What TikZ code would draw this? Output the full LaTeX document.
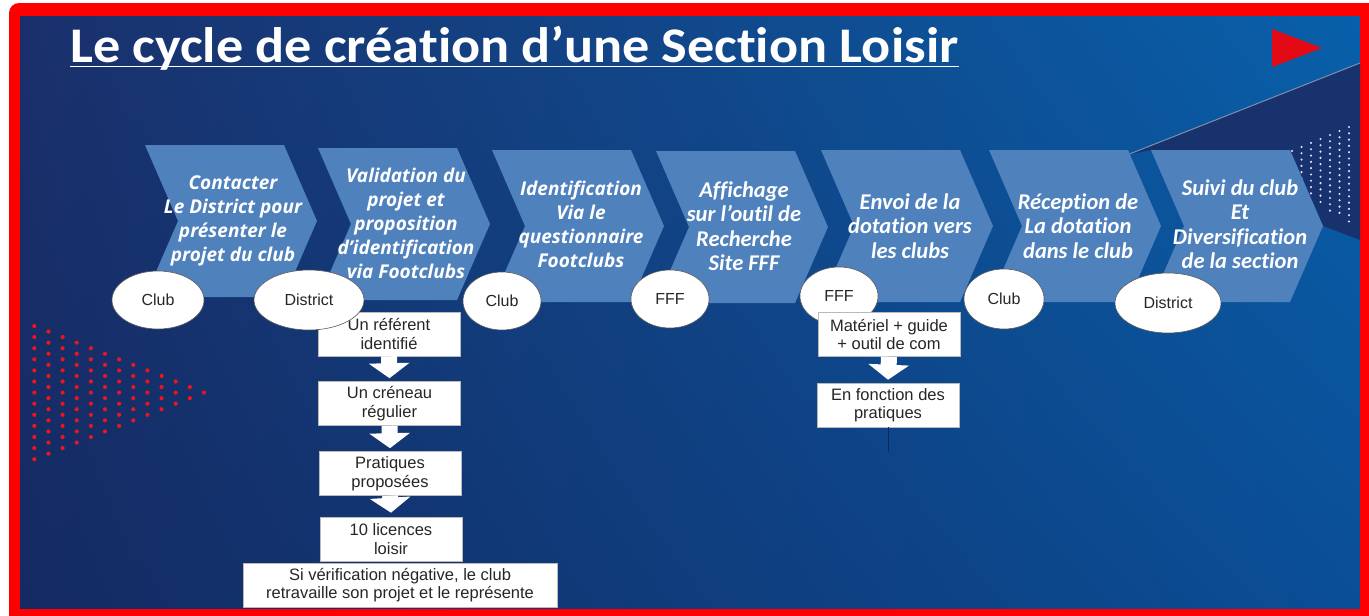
\documentclass[tikz,border=0pt]{standalone}
\usepackage{fontspec}
\usetikzlibrary{shapes.geometric,arrows.meta,calc,shadings}
\setmainfont{Liberation Sans}
\newfontfamily\carl{Carlito}[Ligatures=NoCommon]
\newfontfamily\osans{Open Sans}
\definecolor{chevblue}{RGB}{79,129,189}
\definecolor{framered}{RGB}{255,0,0}
\definecolor{trired}{RGB}{226,8,20}
\definecolor{dotred}{RGB}{235,20,32}
\definecolor{darkzone}{RGB}{24,50,110}
\definecolor{txtgray}{RGB}{38,38,38}
\definecolor{navyline}{RGB}{14,40,90}
\definecolor{diagline}{RGB}{128,142,170}
\definecolor{bgUL}{RGB}{26,48,108}
\definecolor{bgUR}{RGB}{8,96,170}
\definecolor{bgLL}{RGB}{20,42,98}
\definecolor{bgLR}{RGB}{10,78,150}
\newcommand\chevshape[2]{\fill[chev] (#1,#2) -- ++(139,0) -- ++(33,76) -- ++(-33,76) -- ++(-139,0) -- ++(33,-76) -- cycle;}
\begin{document}
\begin{tikzpicture}[x=1pt,y=-1pt,
  ell/.style={ellipse, fill=white, draw=gray!70!black, line width=0.6pt, inner sep=0pt, font=\fontsize{16}{18}\selectfont, text=txtgray},
  flowbox/.style={rectangle, fill=white, draw=gray!55, line width=0.6pt, inner sep=0pt, minimum width=142pt, minimum height=44pt, align=center, font=\fontsize{16.5}{18.5}\selectfont, text=txtgray},
  ctxtA/.style={text=white, font=\osans\bfseries\itshape\fontsize{19}{24}\selectfont, align=center, inner sep=0pt},
  ctxtB/.style={text=white, font=\carl\bfseries\itshape\fontsize{22.5}{24.5}\selectfont, align=center, inner sep=0pt},
  blockarrow/.style={draw=white, line width=16pt, -{Triangle[width=40pt,length=15pt]}},
  chev/.style={fill=chevblue}
]
\useasboundingbox (0,0) rectangle (1369,616);
% frame and background
\fill[white] (0,0) rectangle (1369,616);
\fill[framered, rounded corners=10pt] (9,3) rectangle (1400,640);
\shade[upper left=bgUL, upper right=bgUR, lower left=bgLL, lower right=bgLR] (20,16) rectangle (1360,608);
% dark zone top right
\fill[darkzone] (1127,155) -- (1360,63) -- (1360,240) -- (1323,226) -- (1290,150) -- (1151,150) -- cycle;
\draw[diagline, line width=1pt] (1127,155) -- (1360,63);
\foreach \j in {0,...,6} {
  \pgfmathsetmacro\xx{1292+9.5*\j}
  \pgfmathsetmacro\yt{127+(1349-\xx)*0.42}
  \pgfmathtruncatemacro\nn{(225-(1349-\xx)*0.75-\yt)/6.3}
  \foreach \k in {0,...,\nn} \fill[white!88!blue] (\xx,\yt+6.3*\k) circle[radius=1.2pt];
}
% red dots left
\foreach \j in {0,...,12} {
  \pgfmathtruncatemacro\nn{12-\j}
  \foreach \k in {0,...,\nn} \fill[dotred] (34.3+14.14*\j, 326+5.55*\j+11.1*\k) circle[radius=2.1pt];
}
% red triangle
\fill[trired] (1272,29) -- (1272,67) -- (1322,48) -- cycle;
% title
\node[anchor=base west, inner sep=0pt, text=white] (title) at (70,62) {\scalebox{1}[0.92]{\resizebox{888pt}{!}{\carl\bfseries Le cycle de création d’une Section Loisir}}};
\draw[white, line width=1.8pt] ($(title.base west)+(0,4.5)$) -- ($(title.base east)+(0,4.5)$);
% chevrons
\chevshape{145}{145}
\chevshape{318}{148}
\chevshape{492}{150}
\chevshape{656}{151}
\chevshape{821}{150}
\chevshape{989}{150}
\chevshape{1151}{150}
\node[ctxtA] (c1) at (233,221) {Contacter\\Le District pour\\présenter le\\projet du club};
\node[ctxtA] (c2) at (406,223) {Validation du\\projet et\\proposition\\d’identification\\via Footclubs};
\node[ctxtA] (c3) at (581,224) {Identification\\Via le\\questionnaire\\Footclubs};
\node[ctxtB] (c4) at (744,226) {Affichage\\sur l’outil de\\Recherche\\Site FFF};
\node[ctxtB] (c5) at (910,226) {Envoi de la\\dotation vers\\les clubs};
\node[ctxtB] (c6) at (1078,226) {Réception de\\La dotation\\dans le club};
\node[ctxtB] (c7) at (1240,224) {Suivi du club\\Et\\Diversification\\de la section};
% ellipse under box
\node[ell, minimum width=78pt, minimum height=58pt] (e5) at (839,296) {FFF};
% boxes
\node[flowbox] (b1) at (389,334) {Un référent\\identifié};
\node[flowbox] (b2) at (389.5,403.5) {Un créneau\\régulier};
\node[flowbox] (b3) at (390,473.5) {Pratiques\\proposées};
\node[flowbox] (b4) at (391,539) {10 licences\\loisir};
\node[flowbox, minimum width=314pt] (b5) at (400,585) {Si vérification négative, le club\\retravaille son projet et le représente};
\node[flowbox] (m1) at (889,334.5) {Matériel + guide\\+ outil de com};
\node[flowbox] (m2) at (888,405) {En fonction des\\pratiques};
\draw[blockarrow] (b1.south) -- ($(b2.north)+(0,-3)$);
\draw[blockarrow] (b2.south) -- ($(b3.north)+(0,-3)$);
\draw[blockarrow] (b3.south) -- ($(b4.north)+(0,-4)$);
\draw[blockarrow] (m1.south) -- ($(m2.north)+(0,-3)$);
\coordinate (m2end) at ($(m2.south)+(0,25)$);
\draw[navyline, line width=1pt] (m2.south) -- (m2end);
% ellipses
\node[ell, minimum width=92pt, minimum height=58pt] (e1) at (158,300) {Club};
\node[ell, minimum width=110pt, minimum height=60pt] (e2) at (309,300) {District};
\node[ell, minimum width=78pt, minimum height=58pt] (e3) at (502,301) {Club};
\node[ell, minimum width=78pt, minimum height=58pt] (e4) at (670,299) {FFF};
\node[ell, minimum width=80pt, minimum height=60pt] (e6) at (1004,299) {Club};
\node[ell, minimum width=106pt, minimum height=60pt] (e7) at (1168,303) {District};
\end{tikzpicture}
\end{document}
